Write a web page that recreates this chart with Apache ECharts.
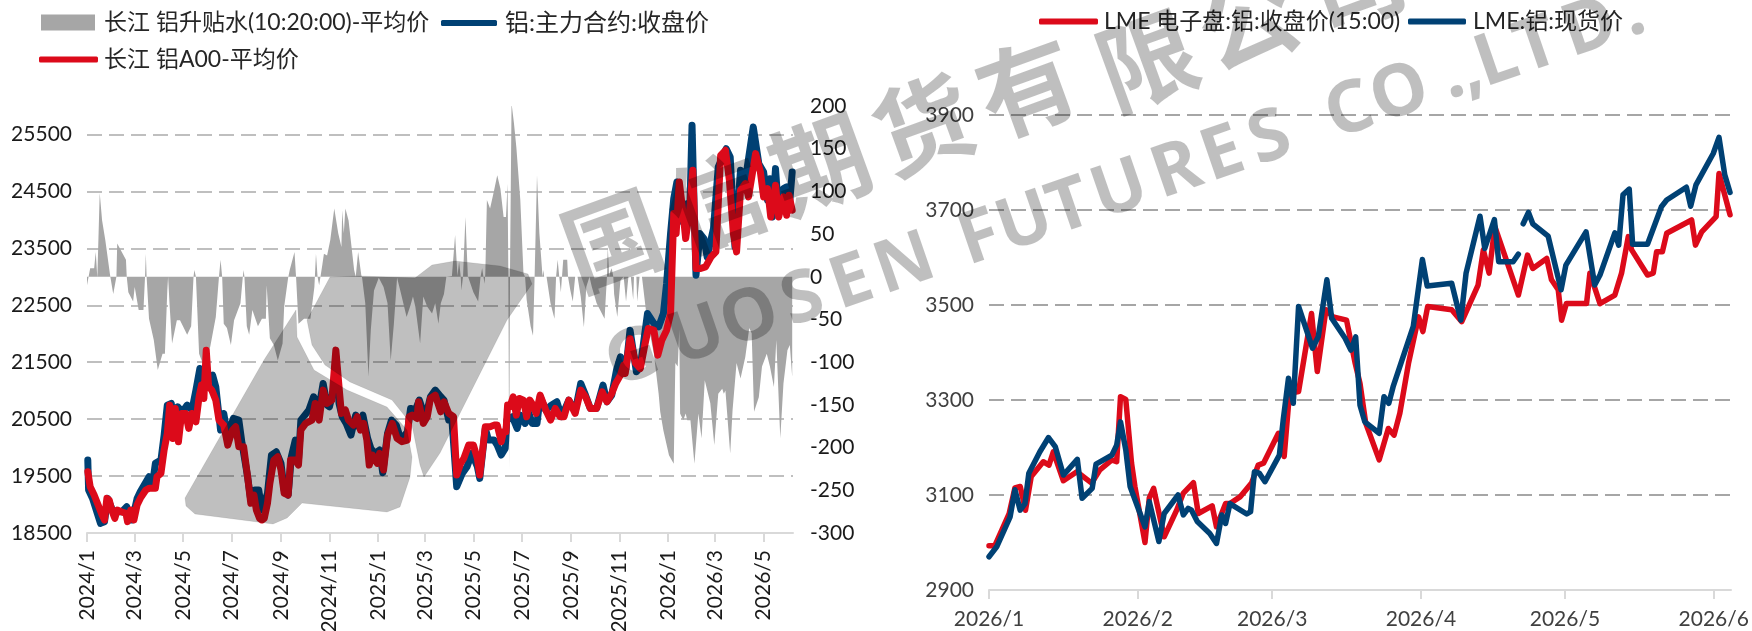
<!DOCTYPE html>
<html>
<head>
<meta charset="utf-8">
<style>html,body{margin:0;padding:0;background:#fff}#c{width:1752px;height:631px}</style>
<script src="https://cdn.jsdelivr.net/npm/echarts@6/dist/echarts.min.js"></script>
</head>
<body>
<div id="c"></div>
<script>
// ---------- left chart data (days are counted from 2024-01-01) ----------
const premiumName = '长江 铝升贴水(10:20:00)-平均价';
const futuresName = '铝:主力合约:收盘价';
const spotName = '长江 铝A00-平均价';
const premiumDays = [0,1,4,9,11,13,16,19,23,29,31,33,35,37,38,49,50,52,58,60,65,71,73,74,75,78,84,89,95,98,101,102,104,107,113,117,126,131,134,135,137,141,147,155,162,166,168,170,172,176,181,185,193,196,197,198,201,204,208,210,215,220,225,226,228,230,235,240,246,248,253,255,261,263,266,273,281,286,288,290,292,296,298,302,306,311,316,320,321,323,325,329,336,338,341,345,346,350,354,357,361,367,369,373,378,382,386,390,394,402,407,410,413,419,423,428,434,438,442,445,449,452,459,463,466,468,470,471,473,476,479,481,486,492,495,497,499,500,501,503,507,512,516,520,524,527,529,530,531,532,533,534,537,540,545,549,551,553,558,561,563,566,569,573,574,575,578,583,588,590,592,594,596,599,604,605,608,611,614,617,621,625,628,632,635,641,651,654,655,657,658,660,662,663,667,671,675,678,681,684,687,688,691,692,695,698,704,713,719,721,725,732,738,740,743,745,746,750,753,755,759,764,769,773,777,784,789,794,799,801,803,809,812,817,822,828,833,836,839,845,849,855,859,864,867,872,876,881,884,887];
const premiumValues = [-10,-10,10,10,29,-1,98,66,43,2,0,-20,-20,0,39,20,0,-18,-29,-12,-39,-39,0,27,0,-49,-74,-109,-90,-90,-16,0,-35,-78,-51,-51,-68,-58,0,8,0,-90,-105,-82,-47,0,20,0,-55,-60,-80,-51,-31,0,8,0,-58,-68,-39,-41,-58,-49,-49,-10,-10,-72,-80,-98,-78,-35,-1,8,29,-1,-55,-49,-49,-12,27,0,-10,14,27,25,43,80,51,35,78,51,80,66,8,0,29,2,-1,-31,-117,-62,-16,-1,1,-12,-31,-98,-55,-1,-16,-47,-33,-23,-35,-78,-23,-35,-43,-31,-55,-31,-20,0,1,49,1,18,1,-16,1,70,1,0,-18,-29,0,10,10,-8,4,90,80,101,119,103,70,70,109,0,-226,0,0,203,180,152,90,4,0,-27,-58,-69,0,119,51,0,8,0,0,-31,-49,0,20,0,-18,20,20,0,-16,-29,0,0,-23,-59,-12,0,-12,-31,-49,0,35,0,6,10,0,-20,-47,-4,0,-29,0,0,-27,0,0,-29,0,0,-47,-90,-137,-158,-180,-209,-219,-101,-105,-62,-160,-168,-160,-168,-168,-219,-160,-189,-121,-148,-197,-137,-131,-137,-133,-207,-156,-101,-119,-94,-60,-66,-158,-141,-105,-90,-105,-129,-74,-189,-125,-86,-80,-117];
const futuresDays = [1,2,7,13,17,22,26,32,38,44,50,51,57,63,67,78,82,86,93,97,101,106,109,114,120,126,132,137,142,145,149,158,162,168,172,177,184,191,195,202,206,211,216,220,227,232,238,244,248,253,257,262,266,269,279,285,292,297,302,305,310,313,317,321,326,332,338,342,347,353,357,362,368,372,378,383,389,395,403,407,413,418,423,428,432,438,445,449,455,459,465,472,478,484,491,494,501,505,512,516,521,526,528,535,541,545,551,556,560,566,570,577,584,591,597,606,614,621,627,633,641,649,654,660,666,671,675,678,683,691,696,705,713,719,725,729,734,738,742,744,750,755,758,761,764,766,771,776,780,788,794,804,809,815,822,828,838,845,851,856,859,862,866,870,876,880,883,887];
const futuresValues = [19781,19255,19108,18845,18670,18699,19108,18904,18874,18874,18962,18728,18728,19108,19225,19489,19313,19723,19781,20220,20746,20776,20483,20717,20629,20746,20659,21010,21390,21068,21244,21273,21068,20308,20600,20191,20512,20483,20074,19489,19079,19255,19255,18904,19196,19869,19927,19723,19255,19167,19840,20132,19781,20483,20659,20893,20717,21127,20746,20717,21010,21595,20776,20542,20425,20220,20571,20366,20571,20161,19986,19898,19957,19559,20249,20483,20395,20132,20278,20688,20659,20834,20629,20659,20893,21010,20893,20834,20483,20483,19313,19547,19664,19898,19664,19459,20337,20132,20132,20044,19869,19986,20483,20542,20337,20571,20425,20600,20425,20425,20893,20659,20746,20805,20542,20834,20629,21127,20922,20688,20688,21097,20805,20922,21361,21595,21419,21390,22063,21331,21419,22355,22180,22121,22355,22882,23759,24373,24666,23964,24052,24286,24052,25660,24052,23028,23759,23671,23350,23847,24929,25251,25105,23525,24871,24695,25631,24988,24841,24344,24724,24052,24900,24110,24549,24578,24169,24841];
const spotDays = [1,4,9,14,19,22,25,28,31,35,38,43,49,51,55,59,63,67,74,78,82,86,88,93,97,101,104,108,111,115,119,124,128,132,137,141,144,147,150,153,157,162,166,172,177,183,187,191,197,202,206,210,213,217,220,223,227,230,235,240,244,248,253,256,262,266,269,275,283,287,292,297,302,308,313,317,320,325,329,335,340,344,348,352,355,359,365,368,373,378,384,390,396,403,405,409,415,417,423,428,432,438,445,449,455,461,465,470,474,480,486,491,494,501,507,512,516,521,524,527,529,532,536,540,544,549,553,557,561,565,570,577,583,589,595,600,606,614,621,627,633,641,648,654,660,665,671,675,677,683,690,696,702,706,713,718,723,729,734,738,741,745,750,753,758,762,766,771,778,785,791,797,803,808,813,817,822,828,832,841,847,851,856,860,866,870,876,880,883,887];
const spotValues = [19576,19313,19167,18991,18816,18728,19108,19079,18904,18757,18904,18874,18845,18699,18904,18728,18991,19108,19255,19284,19284,19284,19489,19547,19957,20249,20746,20161,20688,20103,20600,20600,20337,20600,20454,20893,21097,20863,21712,21068,21010,20834,20483,20395,20044,20308,20366,20015,20015,19489,19021,19167,18904,18757,18728,18757,19021,19372,19781,19840,19606,19196,19167,19781,19781,19693,20308,20425,20483,20776,20483,21010,20776,20834,21712,21068,20600,20659,20483,20395,20542,20308,20425,20132,19693,19869,19723,19898,19606,20220,20425,20161,20103,20132,20542,20571,20512,20805,20425,20542,20863,20922,20629,20805,20600,20542,19518,19723,19810,20044,20044,19810,19518,20366,20366,20395,20395,20103,20278,20278,20746,20717,20893,20571,20863,20834,20542,20834,20746,20600,20922,20659,20483,20688,20542,20542,20834,20600,21010,20893,20688,20688,20980,20805,20951,21127,21273,21448,21302,21916,21478,21390,21829,22092,22063,21624,21887,22063,22355,24110,23759,24666,24081,23671,24169,24871,23145,23145,23174,23350,23437,25134,25222,24695,23759,23437,24520,24637,24403,25163,24841,24403,24549,24052,24607,24052,24403,24081,24432,24169];
const leftPriceTicks = [18500,19500,20500,21500,22500,23500,24500,25500];
const leftPremiumTicks = [-300,-250,-200,-150,-100,-50,0,50,100,150,200];
const leftDateTicks = ['2024/1','2024/3','2024/5','2024/7','2024/9','2024/11','2025/1','2025/3','2025/5','2025/7','2025/9','2025/11','2026/1','2026/3','2026/5'];

// ---------- right chart data (days are counted from 2026-01-01) ----------
const lmeElecName = 'LME 电子盘:铝:收盘价(15:00)';
const lmeSpotName = 'LME:铝:现货价';
const lmeElecDays = [0,1.2,4.2,5.4,6.5,7.6,8.8,11.3,12.5,13.4,15.5,18.3,21.4,23.1,25.6,26.6,27.4,28.5,29.7,30.4,32.5,33.4,34.3,36.5,39.1,40.5,42.6,43.6,46.5,47.4,49.3,50.2,52.3,54.7,56.1,57.2,60.3,61.5,62.6,64.5,67.2,68.4,70.2,71.7,74.5,76.3,77.3,78.5,81.3,83.2,84.4,85.6,87.4,89.5,90.4,91.4,96.4,98.5,101.9,103,104.2,105.4,110.3,112.2,113.3,116.2,117.2,118.6,119.3,120.3,124.5,125.2,127.3,130.4,131.8,133.2,133.9,137.2,138.4,139.1,140.3,141.2,146.4,147.2,148.5,151.5,152.1,154.4];
const lmeElecValues = [2993,2993,3061,3115,3118,3068,3139,3170,3163,3191,3130,3149,3125,3153,3174,3170,3307,3301,3167,3118,3000,3094,3114,3012,3068,3104,3126,3061,3077,3033,3082,3082,3096,3125,3163,3167,3230,3181,3314,3318,3482,3360,3490,3475,3468,3377,3335,3251,3174,3240,3226,3272,3377,3475,3444,3497,3490,3465,3542,3616,3567,3665,3521,3605,3577,3598,3553,3532,3468,3503,3503,3567,3503,3521,3567,3644,3616,3563,3567,3612,3612,3651,3679,3626,3654,3686,3777,3690];
const lmeSpotDays = [0,1.6,4.4,5.4,6.5,7.5,8.3,10.6,12.4,13.8,15.5,18.4,19.4,21.5,22.3,25.6,26.6,27.4,28.5,29.4,32.5,33.4,35.4,36.5,39.4,40.5,41.5,42.2,43.4,46,47.4,48.5,49.3,50.2,53.7,54.5,55.3,56.3,57.5,60.5,61.3,62.4,63.4,64.5,67.4,68.6,70.4,71.4,74.2,75.4,76.4,77.3,78.3,81.3,82.3,83.3,84.2,88.4,90.3,91.3,96.4,98.3,99.4,102.3,103.3,105.3,106.2,109.2,110.3,110.8,111.3,112.4,113.3,116.5,119.2,120.2,124.4,126.2,127.3,130.4,131.2,132.1,133.4,134.1,137.2,140.1,141.2,145.3,146.2,147.3,150.9,152.1,153.3,154.4];
const lmeSpotValues = [2970,2991,3054,3111,3068,3082,3146,3191,3221,3202,3142,3175,3093,3114,3165,3184,3205,3254,3195,3118,3033,3086,3002,3061,3100,3058,3072,3068,3044,3019,2998,3058,3040,3082,3060,3065,3149,3146,3128,3184,3258,3346,3293,3497,3409,3433,3553,3472,3430,3405,3433,3289,3254,3230,3307,3293,3328,3455,3596,3540,3546,3468,3567,3687,3619,3680,3591,3591,3607,null,3671,3695,3671,3645,3532,3584,3654,3542,3563,3652,3626,3732,3744,3628,3628,3707,3721,3748,3708,3753,3819,3853,3774,3737];
const rightPriceTicks = [2900,3100,3300,3500,3700,3900];
const rightDateTicks = ['2026/1','2026/2','2026/3','2026/4','2026/5','2026/6'];

// ---------- watermark text ----------
const watermarkCn = ['国','信','期','货','有','限','公','司'];
const watermarkEn = ['G','U','O','S','E','N','F','U','T','U','R','E','S','C','O','.',',','L','T','D','.'];

const DAY = 864e5;
const leftStart = Date.UTC(2024,0,1);
const rightStart = Date.UTC(2026,0,1);
const zip = (days, vals) => days.map((d,i)=>[d, vals[i]]);
const tickDay = (s,start) => { const [y,m]=s.split('/').map(Number); return Math.round((Date.UTC(y,m-1,1)-start)/DAY); };
const leftTickDays = leftDateTicks.map(s=>tickDay(s,leftStart));
const rightTickDays = rightDateTicks.map(s=>tickDay(s,rightStart));
const fmtLeft = v => leftDateTicks[leftTickDays.indexOf(v)] || '';
const fmtRight = v => rightDateTicks[rightTickDays.indexOf(v)] || '';
const plain = v => String(v);

const BLUE='#004174', RED='#dc0a1a', AREA='#a6a6a6';
const FONT = 'Lato, "Noto Sans CJK SC", sans-serif';
const dash = (c)=>({show:true,showMinLine:false,lineStyle:{color:c,width:2,type:[15,7]}});
const xLine = {show:true,onZero:false,lineStyle:{color:'#d9d9d9',width:2}};
const yLabel = (margin,color,ticks)=>({margin,fontSize:21,color,fontFamily:FONT,customValues:ticks,formatter:plain,verticalAlignMinLabel:'middle',verticalAlignMaxLabel:'middle'});

const wm = 'rgba(0,0,0,0.25)';
const graphics = [];
// logo, two pieces with a white S-shaped gap
const logoA = [[296,310],[264,360],[185,498],[186,506],[195,514],[273,524],[287,518],[302,503],[387,512],[400,507],[410,477],[412,457],[407,430],[387,407],[347,390],[314,370],[297,337]];
const logoB = [[307,320],[330,277],[360,276],[415,278],[432,265],[455,261],[500,266],[528,274],[532,284],[507,320],[440,453],[424,477],[420,465],[412,425],[392,400],[350,382],[325,365],[312,345]];
[logoA,logoB].forEach(p=>graphics.push({type:'polygon',z:100,silent:true,shape:{points:p},style:{fill:wm,stroke:'rgba(0,0,0,0.08)',lineWidth:1,lineJoin:'round'}}));
const cnPos=[[612,240],[716,202],[820,164],[923,125],[1027,87],[1147,60],[1247,20],[1355,-18]];
watermarkCn.forEach((c,i)=>graphics.push({type:'text',z:100,silent:true,x:cnPos[i][0],y:cnPos[i][1],rotation:20*Math.PI/180,
  style:{text:c,fontFamily:'"Noto Sans CJK SC"',fontSize:98,fontWeight:'bold',fill:wm,align:'center',verticalAlign:'middle'}}));
const enX=[633,697,750,803,852,905,980,1025,1070,1120,1177,1223,1270,1350,1400,1452,1470,1497,1537,1590,1633];
watermarkEn.forEach((c,i)=>graphics.push({type:'text',z:100,silent:true,x:enX[i],y:337-(enX[i]-697)*0.345,rotation:19*Math.PI/180,
  style:{text:c,fontFamily:'"Noto Sans"',fontSize:72,fontWeight:'bold',fill:wm,align:'center',verticalAlign:'middle'}}));

const legendText = (gap,size)=>({fontFamily:FONT,fontSize:size||23,color:'#262626',padding:[0,0,0,gap]});
const lineIcon = (name,color)=>[{name,icon:'roundRect',itemStyle:{color}}];
const chart = echarts.init(document.getElementById('c'),null,{renderer:'canvas'});
chart.setOption({
  animation:false,
  backgroundColor:'#fff',
  textStyle:{fontFamily:FONT},
  grid:[
    {left:87,top:106,width:706,height:427,outerBoundsMode:'none'},
    {left:989,top:115,width:742,height:475,outerBoundsMode:'none'}
  ],
  legend:[
    {data:[{name:premiumName,icon:'rect',itemStyle:{color:AREA}}],left:36,top:6,itemWidth:54,itemHeight:16,textStyle:legendText(4),selectedMode:false},
    {data:lineIcon(futuresName,BLUE),left:436,top:6,itemWidth:56,itemHeight:6,textStyle:legendText(3,24),selectedMode:false},
    {data:lineIcon(spotName,RED),left:34,top:43,itemWidth:59,itemHeight:6,textStyle:legendText(1),selectedMode:false},
    {data:lineIcon(lmeElecName,RED),left:1034,top:5,itemWidth:59,itemHeight:6,textStyle:legendText(1),selectedMode:false},
    {data:lineIcon(lmeSpotName,BLUE),left:1403,top:5,itemWidth:58,itemHeight:6,textStyle:legendText(2),selectedMode:false}
  ],
  xAxis:[
    {type:'value',gridIndex:0,min:0,max:888,
     axisLine:xLine,axisTick:{show:true,length:9,lineStyle:{color:'#d9d9d9',width:2},customValues:leftTickDays},
     axisLabel:{rotate:90,margin:17,fontSize:21,color:'#1a1a1a',fontFamily:FONT,customValues:leftTickDays,formatter:fmtLeft,hideOverlap:false,showMinLabel:true,showMaxLabel:true},
     splitLine:{show:false}},
    {type:'value',gridIndex:1,min:0,max:154.6,
     axisLine:xLine,axisTick:{show:true,length:9,lineStyle:{color:'#d9d9d9',width:2},customValues:rightTickDays},
     axisLabel:{margin:19,fontSize:21,color:'#404040',fontFamily:FONT,customValues:rightTickDays,formatter:fmtRight,hideOverlap:false,showMinLabel:true,showMaxLabel:true},
     splitLine:{show:false}}
  ],
  yAxis:[
    {type:'value',gridIndex:0,position:'left',min:18500,max:26000,
     axisLine:{show:false},axisTick:{show:false,customValues:leftPriceTicks},
     axisLabel:yLabel(15,'#1a1a1a',leftPriceTicks),
     splitLine:dash('#bfbfbf')},
    {type:'value',gridIndex:0,position:'right',min:-300,max:200,
     axisLine:{show:false},axisTick:{show:false,customValues:leftPremiumTicks},
     axisLabel:yLabel(17,'#1a1a1a',leftPremiumTicks),
     splitLine:{show:false}},
    {type:'value',gridIndex:1,position:'left',min:2900,max:3900,
     axisLine:{show:false},axisTick:{show:false,customValues:rightPriceTicks},
     axisLabel:yLabel(15,'#404040',rightPriceTicks),
     splitLine:dash('#a6a6a6')}
  ],
  series:[
    {name:premiumName,type:'line',xAxisIndex:0,yAxisIndex:1,data:zip(premiumDays,premiumValues),symbol:'none',clip:true,z:1,
     itemStyle:{color:AREA},lineStyle:{width:0},areaStyle:{color:AREA,opacity:1}},
    {name:futuresName,type:'line',xAxisIndex:0,yAxisIndex:0,data:zip(futuresDays,futuresValues),symbol:'none',clip:false,z:3,
     itemStyle:{color:BLUE},lineStyle:{color:BLUE,width:7,cap:'round',join:'round'}},
    {name:spotName,type:'line',xAxisIndex:0,yAxisIndex:0,data:zip(spotDays,spotValues),symbol:'none',clip:false,z:4,
     itemStyle:{color:RED},lineStyle:{color:RED,width:7,cap:'round',join:'round'}},
    {name:lmeElecName,type:'line',xAxisIndex:1,yAxisIndex:2,data:zip(lmeElecDays,lmeElecValues),symbol:'none',clip:false,z:3,
     itemStyle:{color:RED},lineStyle:{color:RED,width:5.5,cap:'round',join:'round'}},
    {name:lmeSpotName,type:'line',xAxisIndex:1,yAxisIndex:2,data:zip(lmeSpotDays,lmeSpotValues),symbol:'none',clip:false,z:4,
     itemStyle:{color:BLUE},lineStyle:{color:BLUE,width:5.5,cap:'round',join:'round'}}
  ],
  graphic:{elements:graphics}
});
</script>
</body>
</html>
